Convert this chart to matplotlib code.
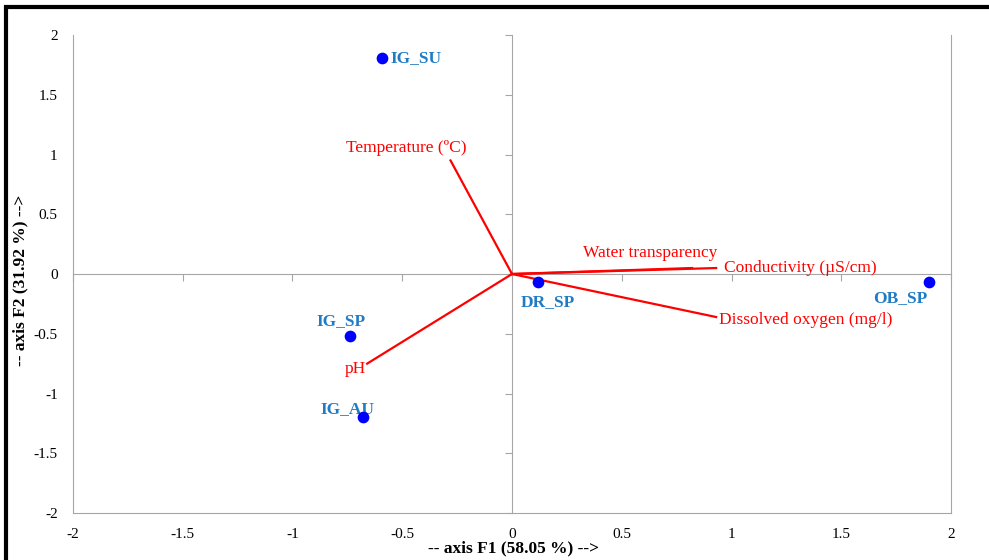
import numpy as np
import matplotlib
matplotlib.use("Agg")
import matplotlib.pyplot as plt
from matplotlib.patches import Rectangle

plt.rcParams['font.family'] = ['Liberation Serif', 'DejaVu Serif']
plt.rcParams['axes.unicode_minus'] = False

# observations (sites) on F1/F2
sites = ["IG_SU", "IG_SP", "IG_AU", "DR_SP", "OB_SP"]
site_f1 = [-0.59, -0.74, -0.68, 0.12, 1.90]
site_f2 = [1.81, -0.52, -1.20, -0.07, -0.07]

# variables (loadings) on F1/F2
variables = ["Temperature (ºC)", "Water transparency", "Conductivity (µS/cm)",
             "Dissolved oxygen (mg/l)", "pH"]
var_f1 = [-0.28, 0.82, 0.93, 0.93, -0.66]
var_f2 = [0.95, 0.05, 0.05, -0.36, -0.75]

ticks = [-2, -1.5, -1, -0.5, 0, 0.5, 1, 1.5, 2]
tick_labels = ["-2", "-1.5", "-1", "-0.5", "0", "0.5", "1", "1.5", "2"]

site_offsets = [(6, 0, "left"), (-6, 11, "center"), (-11, 6, "center"),
                (7, -14, "center"), (-21, -11, "center")]
var_offsets = [(-32, 9, "center"), (-30, 11, "center"), (6, 0, "left"),
               (2, -2, "left"), (-1, -4, "right")]

fig = plt.figure(figsize=(9.89, 5.6), dpi=100)
ax = fig.add_axes([0.0738, 0.0839, 0.8878, 0.8536])

grey = "#a6a6a6"
for s in ["left", "right", "bottom"]:
    ax.spines[s].set_color(grey)
ax.spines["top"].set_visible(False)

ax.set_xlim(-2, 2)
ax.set_ylim(-2, 2)
ax.set_xticks(ticks)
ax.set_xticklabels(tick_labels)
ax.set_yticks(ticks)
ax.set_yticklabels(tick_labels)
ax.tick_params(axis="x", length=0, pad=11, labelsize=11)
ax.tick_params(axis="y", length=0, pad=11, labelsize=11)

# cross axes through the origin with tick marks
sx = ax.secondary_xaxis(0.5)
sx.xaxis.set_ticks_position("bottom")
sx.set_xticks(ticks)
sx.set_xticklabels([])
sx.tick_params(axis="x", direction="out", length=5, color=grey)
for s in sx.spines.values():
    s.set_color(grey)
sy = ax.secondary_yaxis(0.5)
sy.yaxis.set_ticks_position("left")
sy.set_yticks(ticks)
sy.set_yticklabels([])
sy.tick_params(axis="y", direction="out", length=5, color=grey)
for s in sy.spines.values():
    s.set_color(grey)

# variable vectors
for i in range(len(variables)):
    ax.plot([0, var_f1[i]], [0, var_f2[i]], color="red", lw=1.6, zorder=3)
    dx, dy, ha = var_offsets[i]
    ax.annotate(variables[i], (var_f1[i], var_f2[i]), xytext=(dx, dy),
                textcoords="offset points", ha=ha, va="center",
                color="red", fontsize=12.5)

# sites
ax.scatter(site_f1, site_f2, s=55, color="#0000ff", zorder=4)
for i in range(len(sites)):
    dx, dy, ha = site_offsets[i]
    ax.annotate(sites[i], (site_f1[i], site_f2[i]), xytext=(dx, dy),
                textcoords="offset points", ha=ha, va="center",
                color="#1f7bc4", fontsize=12.5, fontweight="bold")

fig.text(0.519, 0.02, "-- axis F1 (58.05 %) -->", ha="center", va="center",
         fontsize=12.5, fontweight="bold")
fig.text(0.021, 0.5, "-- axis F2 (31.92 %) -->", ha="center", va="center",
         rotation=90, fontsize=12.5, fontweight="bold")

# frame around the picture (left and top edges visible)
fig.patches.append(Rectangle((0.0061, -0.05), 1.2, 1.0375, transform=fig.transFigure,
                             fill=False, edgecolor="black", lw=3))

fig.savefig("out.png", dpi=100)
